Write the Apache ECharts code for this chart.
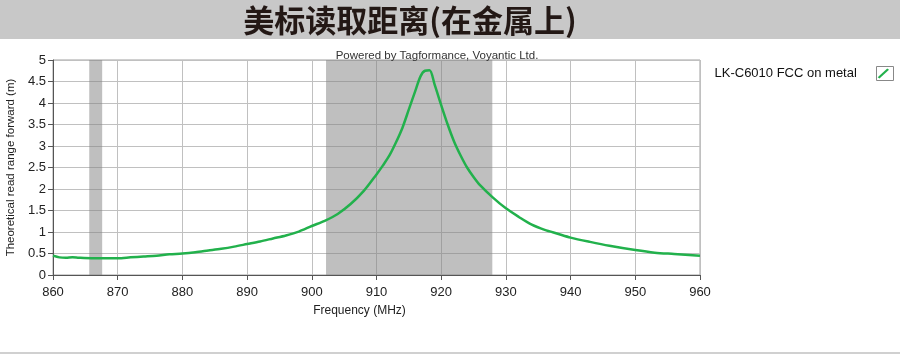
<!DOCTYPE html>
<html>
<head>
<meta charset="utf-8">
<script src="https://cdn.jsdelivr.net/npm/echarts@6/dist/echarts.min.js"></script>
<style>
  html, body { margin: 0; padding: 0; background: #fff; }
  #chart { width: 900px; height: 355px; }
</style>
</head>
<body>
<div id="chart"></div>
<script>
var freqs = [860, 861, 862, 863, 864, 866, 868, 870, 872, 874, 876, 878, 880, 882, 884, 886, 888, 890,
  892, 894, 896, 898, 900, 902, 904, 906, 908, 910, 911, 912, 913, 914, 915, 916, 916.8, 917.5, 918.2,
  919, 920, 921, 922, 923, 924, 925, 926, 928, 930, 932, 934, 936, 938, 940, 943, 946, 950, 953, 956, 960];
var range = [0.45, 0.41, 0.40, 0.41, 0.40, 0.39, 0.39, 0.39, 0.41, 0.43, 0.45, 0.48, 0.50, 0.53, 0.57, 0.61, 0.66, 0.72,
  0.78, 0.85, 0.92, 1.01, 1.14, 1.26, 1.42, 1.65, 1.95, 2.34, 2.55, 2.78, 3.08, 3.42, 3.85, 4.28, 4.62, 4.75, 4.76,
  4.42, 3.95, 3.50, 3.10, 2.78, 2.50, 2.28, 2.09, 1.80, 1.55, 1.35, 1.17, 1.05, 0.96, 0.87, 0.77, 0.68, 0.58, 0.52, 0.49, 0.45];
var bands = [[865.6, 867.6], [902.2, 927.9]];
var seriesName = 'LK-C6010 FCC on metal';
var titleText = '美标读取距离(在金属上)';

var chart = echarts.init(document.getElementById('chart'));
var points = freqs.map(function (f, i) { return [f, range[i]]; });

var option = {
  animation: false,
  backgroundColor: '#fff',
  graphic: [
    { type: 'rect', left: 0, top: 0, shape: { width: 900, height: 39 }, style: { fill: '#c8c8c8' }, z: -1 },
    { type: 'rect', left: 0, top: 352, shape: { width: 900, height: 2 }, style: { fill: '#d0d0d0' }, z: -1 },
    {
      type: 'text', x: 410, y: 20,
      style: {
        text: titleText, fill: '#231815', font: 'bold 31px "Noto Sans CJK SC"',
        align: 'center', verticalAlign: 'middle'
      }
    },
    {
      type: 'text', x: 437, y: 56,
      style: {
        text: 'Powered by Tagformance, Voyantic Ltd.', fill: '#333', font: '11.5px "Liberation Sans"',
        align: 'center', verticalAlign: 'middle'
      }, z: 10
    },
    { type: 'rect', left: 874, top: 64, shape: { width: 17, height: 14 }, style: { fill: 'none', stroke: '#888', lineWidth: 1 } }
  ],
  legend: {
    data: [seriesName],
    right: 11, top: 67,
    padding: 0,
    align: 'right',
    itemWidth: 13, itemHeight: 10,
    icon: 'path://M0,10 L11,0 L13,1.5 L2,11.5 Z',
    textStyle: { fontFamily: 'Liberation Sans', fontSize: 13, color: '#111', padding: [0, 15, 0, 0] }
  },
  grid: {
    left: 53, right: 200, top: 60, bottom: 80,
    outerBoundsMode: 'none',
    show: true, borderColor: '#a0a0a0', borderWidth: 1
  },
  xAxis: {
    type: 'value', min: 860, max: 960, interval: 10,
    name: 'Frequency (MHz)', nameLocation: 'middle', nameGap: 30,
    nameTextStyle: { fontFamily: 'Liberation Sans', fontSize: 12, color: '#222', padding: [0, 34, 0, 0] },
    axisLine: { lineStyle: { color: '#555' } },
    axisTick: { show: true, length: 5, lineStyle: { color: '#555' } },
    axisLabel: { fontFamily: 'Liberation Sans', fontSize: 13, color: '#222', margin: 11 },
    splitLine: { lineStyle: { color: '#c0c0c0', width: 1 } }
  },
  yAxis: {
    type: 'value', min: 0, max: 5, interval: 0.5,
    name: 'Theoretical read range forward (m)', nameLocation: 'middle', nameGap: 33,
    nameTextStyle: { fontFamily: 'Liberation Sans', fontSize: 11.5, color: '#222' },
    axisLine: { show: true, lineStyle: { color: '#555' } },
    axisTick: { show: true, length: 5, lineStyle: { color: '#555' } },
    axisLabel: { fontFamily: 'Liberation Sans', fontSize: 13, color: '#222', margin: 7 },
    splitLine: { lineStyle: { color: '#c0c0c0', width: 1 } }
  },
  series: [{
    name: seriesName,
    type: 'line',
    data: points,
    showSymbol: false,
    smooth: 0.3,
    color: '#22b14c',
    lineStyle: { color: '#22b14c', width: 2.5 },
    markArea: {
      silent: true,
      itemStyle: { color: 'rgba(128,128,128,0.5)' },
      data: bands.map(function (b) { return [{ xAxis: b[0] }, { xAxis: b[1] }]; })
    }
  }]
};

chart.setOption(option);
</script>
</body>
</html>
